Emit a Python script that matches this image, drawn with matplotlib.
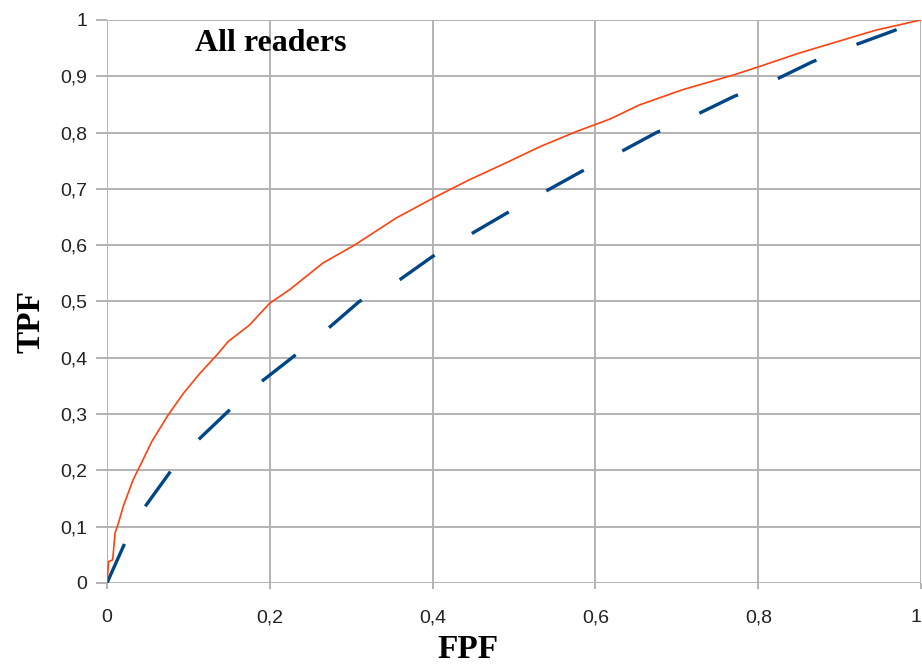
import matplotlib.pyplot as plt
from matplotlib.ticker import FuncFormatter

# ROC curves
fpf_orange = [0, 0.002, 0.007, 0.01, 0.014, 0.02, 0.032, 0.043, 0.055, 0.075, 0.094,
              0.114, 0.135, 0.149, 0.175, 0.2, 0.2245, 0.265, 0.304, 0.355, 0.4, 0.445,
              0.49, 0.532, 0.577, 0.618, 0.654, 0.707, 0.769, 0.801, 0.85, 0.924, 0.945, 1.0]
tpf_orange = [0, 0.038, 0.041, 0.089, 0.106, 0.136, 0.183, 0.215, 0.251, 0.298, 0.337,
              0.372, 0.405, 0.429, 0.458, 0.497, 0.521, 0.568, 0.600, 0.648, 0.683, 0.716,
              0.746, 0.775, 0.802, 0.824, 0.849, 0.876, 0.902, 0.917, 0.941, 0.973, 0.982, 1.0]

fpf_blue = [0, 0.022, 0.047, 0.078, 0.112, 0.149, 0.19, 0.229, 0.27, 0.31, 0.36, 0.4,
            0.445, 0.49, 0.538, 0.583, 0.63, 0.675, 0.723, 0.77, 0.82, 0.867, 0.916, 0.965, 1.0]
tpf_blue = [0, 0.071, 0.136, 0.198, 0.254, 0.305, 0.358, 0.402, 0.45, 0.5, 0.539, 0.58,
            0.618, 0.656, 0.695, 0.731, 0.765, 0.8, 0.831, 0.864, 0.893, 0.926, 0.954, 0.98, 1.0]

xticks = [0, 0.2, 0.4, 0.6, 0.8, 1.0]
yticks = [0, 0.1, 0.2, 0.3, 0.4, 0.5, 0.6, 0.7, 0.8, 0.9, 1.0]

plt.rcParams['lines.scale_dashes'] = False
fig = plt.figure(figsize=(9.22, 6.64), dpi=100)
ax = fig.add_axes([0.116, 0.122, 0.883, 0.848])

ax.plot(fpf_blue, tpf_blue, color="#004586", lw=2.4, linestyle=(0, (30.8, 31)), zorder=3)
ax.plot(fpf_orange, tpf_orange, color="#ff420e", lw=1.2, zorder=4)

ax.set_xlim(0, 1)
ax.set_ylim(0, 1)
ax.set_xticks(xticks)
ax.set_yticks(yticks)
fmt = FuncFormatter(lambda v, p: ("%g" % round(v, 2)).replace(".", ","))
ax.xaxis.set_major_formatter(fmt)
ax.yaxis.set_major_formatter(fmt)
ax.grid(True, color="#b3b3b3", lw=1.4)
ax.set_axisbelow(True)
for s in ax.spines.values():
    s.set_visible(False)
ax.tick_params(axis="y", length=8, color="#b3b3b3", width=1.4, labelsize=14, pad=6)
ax.tick_params(axis="x", length=4, color="#b3b3b3", width=1.4, labelsize=14, pad=15)
for lab in ax.get_xticklabels() + ax.get_yticklabels():
    lab.set_fontfamily("Liberation Sans")
    lab.set_color("#222222")
ax.get_xticklabels()[-1].set_ha("right")

fig.text(0.508, 0.009, "FPF", fontsize=24, fontweight="bold", family="Liberation Serif",
         ha="center", va="baseline")
fig.text(0.034, 0.516, "TPF", fontsize=24, fontweight="bold", family="Liberation Serif",
         ha="center", va="center", rotation=90)
ax.text(0.108, 0.984, "All readers", transform=ax.transAxes, fontsize=23,
        fontweight="bold", family="Liberation Serif", va="top")

fig.savefig("out.png", dpi=100)
